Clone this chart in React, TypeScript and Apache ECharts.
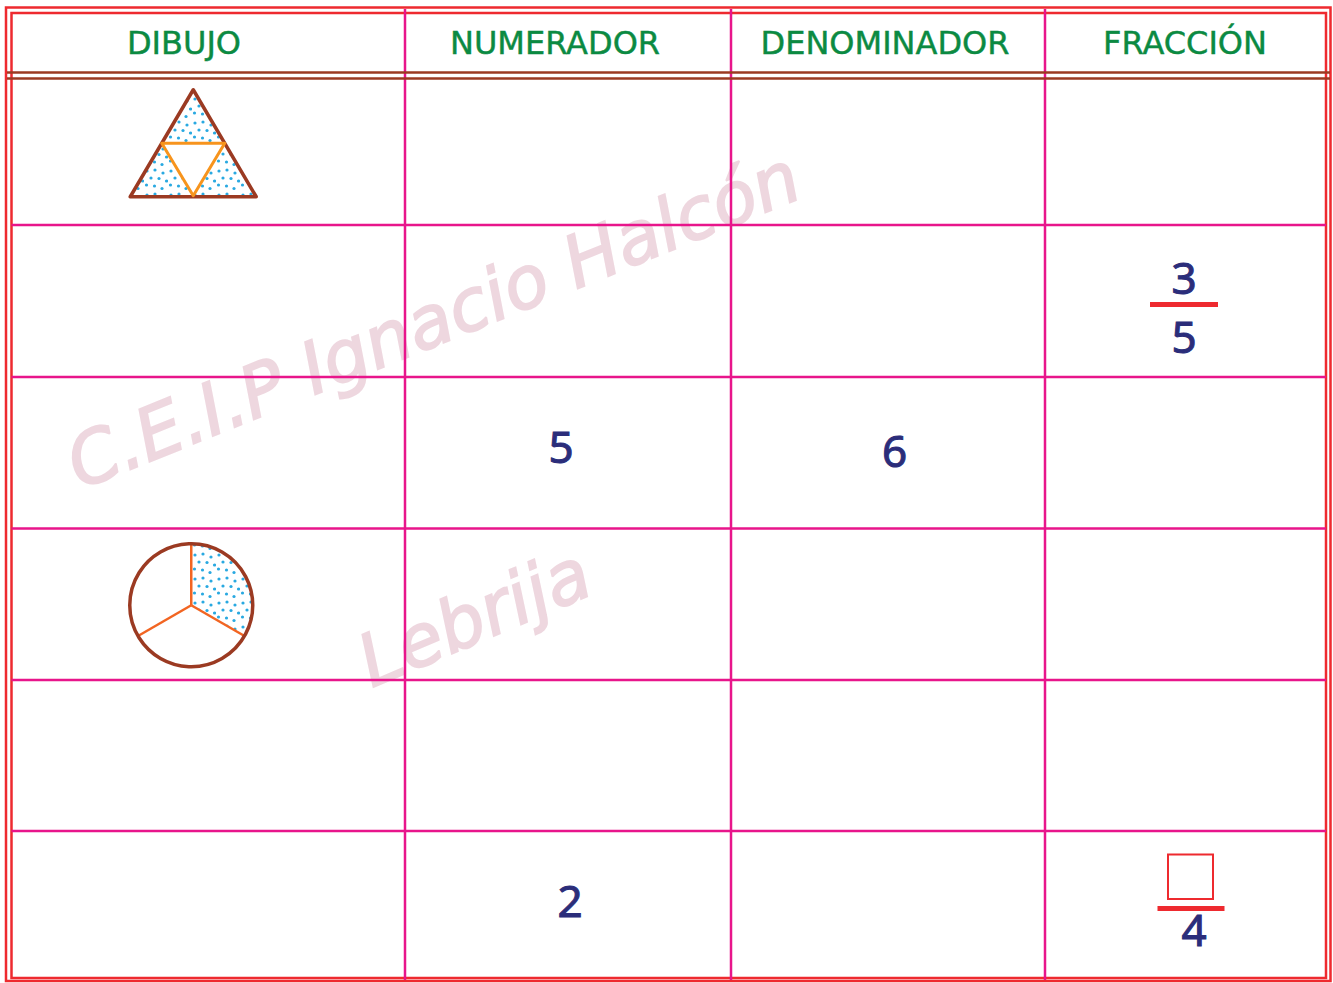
import React, { useEffect, useRef } from "react";
import * as echarts from "echarts";

// ---- content ----
const headers = ["DIBUJO", "NUMERADOR", "DENOMINADOR", "FRACCIÓN"];
const drawings = ["triangle", "", "", "circle", "", ""];
const numerators = ["", "", "5", "", "", "2"];
const denominators = ["", "", "6", "", "", ""];
const fractionNums = ["", "3", "", "", "", "box"];
const fractionDens = ["", "5", "", "", "", "4"];
const watermarkLines = ["C.E.I.P Ignacio Halcón", "Lebrija"];

// ---- layout ----
const colEdges = [11.5, 405, 731, 1045, 1326];
const rowEdges = [78.5, 225, 377, 528.5, 680, 831, 978];
const headerX = [184, 555, 885, 1185];
const headerY = 43;
const numX = [561, 561, 561, 561, 561, 570];
const denX = [894.5, 894.5, 894.5, 894.5, 894.5, 894.5];
const numY = [0, 0, 446, 0, 0, 900];
const denY = [0, 0, 450, 0, 0, 0];
const fracX = [0, 1184, 0, 0, 0, 1191];
const fracBarY = [0, 304.5, 0, 0, 0, 908.5];
const fracBarW = [0, 68, 0, 0, 0, 67];
const fracNumOff = [0, -28, 0, 0, 0, -32];
const fracDenOff = [0, 31, 0, 0, 0, 20];
const fracDenDx = [0, 0, 0, 0, 0, 3];

const C = {
  red: "#ee2a2f",
  grid: "#e8158b",
  brown: "#9b3a22",
  green: "#0b8a42",
  navy: "#2b2d7a",
  dots: "#29a9e1",
  orangeTri: "#f7941d",
  orangeSpoke: "#f26522",
  watermark: "#eed7df",
};

const dotTile =
  "data:image/svg+xml;charset=utf-8," +
  encodeURIComponent(
    '<svg xmlns="http://www.w3.org/2000/svg" width="24" height="24">' +
      [
        [3, 3], [11, 2], [19, 5], [7, 10], [15, 10.5], [22.5, 13],
        [2.5, 17], [10.5, 18], [18, 20.5],
      ]
        .map(([x, y]) => `<circle cx="${x}" cy="${y}" r="1.6" fill="${C.dots}"/>`)
        .join("") +
      "</svg>"
  );

export default function App() {
  const ref = useRef<HTMLDivElement>(null);
  useEffect(() => {
    document.body.style.margin = "0";
    const chart = echarts.init(ref.current!, undefined, { renderer: "svg" });
    const pattern: any = { image: dotTile, repeat: "repeat", imageWidth: 24, imageHeight: 24 };
    const els: any[] = [];

    const wmStyle = {
      fontSize: 72,
      fontFamily: "DejaVu Sans",
      fontStyle: "italic",
      fill: C.watermark,
      stroke: C.watermark,
      lineWidth: 1.8,
      align: "left",
      verticalAlign: "bottom",
    };
    // watermark
    els.push({ type: "text", x: 84, y: 500, rotation: (22 * Math.PI) / 180, style: { ...wmStyle, text: watermarkLines[0] } });
    els.push({ type: "text", x: 376, y: 698, rotation: (23 * Math.PI) / 180, style: { ...wmStyle, text: watermarkLines[1] } });

    // outer double border
    els.push({ type: "rect", shape: { x: 6, y: 7.5, width: 1324.5, height: 973.5 }, style: { fill: "none", stroke: C.red, lineWidth: 2.5 } });
    els.push({ type: "rect", shape: { x: 11.5, y: 13, width: 1314.5, height: 965 }, style: { fill: "none", stroke: C.red, lineWidth: 2.5 } });

    // grid lines
    colEdges.slice(1, -1).forEach((x) => {
      els.push({ type: "line", shape: { x1: x, y1: 9, x2: x, y2: 980 }, style: { stroke: C.grid, lineWidth: 2.5 } });
    });
    rowEdges.slice(1, -1).forEach((y) => {
      els.push({ type: "line", shape: { x1: 11.5, y1: y, x2: 1326, y2: y }, style: { stroke: C.grid, lineWidth: 2.5 } });
    });
    // header double brown line
    [72.5, 78.5].forEach((y) => {
      els.push({ type: "line", shape: { x1: 7, y1: y, x2: 1330, y2: y }, style: { stroke: C.brown, lineWidth: 2.6 } });
    });

    // headers
    headers.forEach((h, i) => {
      els.push({
        type: "text",
        x: headerX[i],
        y: headerY,
        style: {
          text: h, fontSize: 32, fontFamily: "DejaVu Sans", fill: C.green, stroke: C.green, lineWidth: 0.45,
          align: "center", verticalAlign: "middle",
        },
      });
    });

    const digit = (t: string, x: number, y: number) => ({
      type: "text",
      x,
      y,
      style: {
        text: t, fontSize: 44, fontFamily: "Noto Sans", fill: C.navy, stroke: C.navy, lineWidth: 1,
        align: "center", verticalAlign: "middle",
      },
    });

    // drawings
    drawings.forEach((d, r) => {
      const cx = (colEdges[0] + colEdges[1]) / 2 - 16;
      const cy = (rowEdges[r] + rowEdges[r + 1]) / 2;
      if (d === "triangle") {
        const a: [number, number] = [cx + 1, cy - 62];
        const bl: [number, number] = [cx - 62, cy + 45];
        const br: [number, number] = [cx + 64, cy + 45];
        const m1: [number, number] = [(a[0] + bl[0]) / 2, (a[1] + bl[1]) / 2];
        const m2: [number, number] = [(a[0] + br[0]) / 2, (a[1] + br[1]) / 2];
        const m3: [number, number] = [(bl[0] + br[0]) / 2, bl[1] - 1];
        els.push({ type: "polygon", shape: { points: [bl, br, a] }, style: { fill: pattern, stroke: C.brown, lineWidth: 3.5, lineJoin: "round" } });
        els.push({ type: "polygon", shape: { points: [m1, m2, m3] }, style: { fill: "#ffffff", stroke: C.orangeTri, lineWidth: 3, lineJoin: "round" } });
      } else if (d === "circle") {
        const ccx = cx - 1;
        const ccy = cy + 1;
        const R = 61.5;
        els.push({
          type: "sector",
          shape: { cx: ccx, cy: ccy, r0: 0, r: R, startAngle: -Math.PI / 2, endAngle: Math.PI / 6, clockwise: true },
          style: { fill: pattern },
        });
        [-Math.PI / 2, Math.PI / 6, (5 * Math.PI) / 6].forEach((ang) => {
          els.push({
            type: "line",
            shape: { x1: ccx, y1: ccy, x2: ccx + R * Math.cos(ang), y2: ccy + R * Math.sin(ang) },
            style: { stroke: C.orangeSpoke, lineWidth: 2.5 },
          });
        });
        els.push({ type: "circle", shape: { cx: ccx, cy: ccy, r: R }, style: { fill: "none", stroke: C.brown, lineWidth: 3.5 } });
      }
    });

    numerators.forEach((n, r) => {
      if (n) els.push(digit(n, numX[r], numY[r]));
    });
    denominators.forEach((n, r) => {
      if (n) els.push(digit(n, denX[r], denY[r]));
    });
    fractionNums.forEach((n, r) => {
      if (!n) return;
      const x = fracX[r];
      const by = fracBarY[r];
      els.push({ type: "rect", shape: { x: x - fracBarW[r] / 2, y: by - 2.5, width: fracBarW[r], height: 5 }, style: { fill: C.red } });
      if (n === "box") {
        els.push({ type: "rect", shape: { x: x - 23, y: by + fracNumOff[r] - 22, width: 45, height: 44.5 }, style: { fill: "none", stroke: C.red, lineWidth: 2 } });
      } else {
        els.push(digit(n, x, by + fracNumOff[r]));
      }
      els.push(digit(fractionDens[r], x + fracDenDx[r], by + fracDenOff[r]));
    });

    chart.setOption({ animation: false, graphic: { elements: els } });
    return () => chart.dispose();
  }, []);
  return <div ref={ref} style={{ width: 1333, height: 983 }} />;
}
